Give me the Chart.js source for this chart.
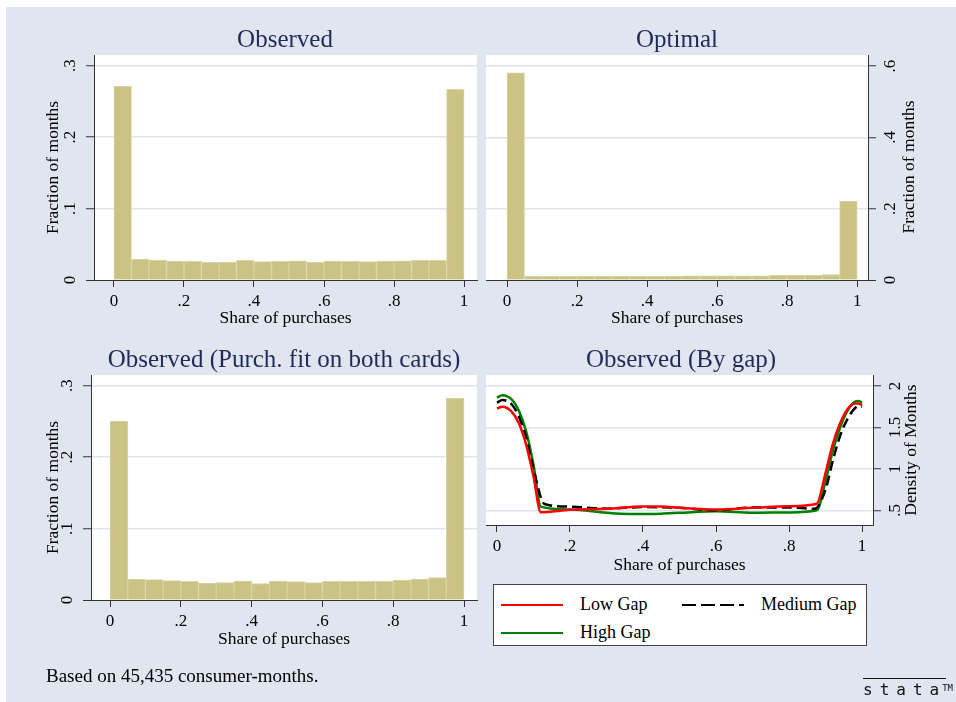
<!DOCTYPE html>
<html>
<head>
<meta charset="utf-8">
<script src="https://cdn.jsdelivr.net/npm/chart.js@4.4.0/dist/chart.umd.min.js"></script>
<style>
  body { margin: 0; background: #fff; font-family: "Liberation Serif", "Times New Roman", serif; }
  #page { position: relative; width: 956px; height: 702px; overflow: hidden; }
  #bg { position: absolute; left: 6px; top: 7px; right: 0; bottom: 0; background: #e1e5ef; }
  canvas { position: absolute; left: 0; top: 0; }
  .ptitle { position: absolute; transform: translate(-50%, -50%); font-size: 25px; line-height: 1; color: #1f2b5b; white-space: nowrap; }
  .rtitle { position: absolute; transform: translate(-50%, -50%) rotate(-90deg); font-size: 17.5px; line-height: 1; color: #000; white-space: nowrap; }
  #legend { position: absolute; left: 493px; top: 584px; width: 372px; height: 60px; border: 1px solid #444; background: #fff; }
  .litem { position: absolute; height: 20px; font-size: 18px; line-height: 20px; color: #000; white-space: nowrap; }
  .litem svg { position: absolute; left: 0; top: 9px; }
  .litem span { position: absolute; left: 79px; top: 0; }
  #note { position: absolute; left: 46px; top: 666px; font-size: 19px; line-height: 20px; color: #000; white-space: nowrap; }
  #logo { position: absolute; left: 863px; top: 681px; font-family: "DejaVu Sans Mono", monospace; font-size: 16px; line-height: 14px; color: #111; white-space: nowrap; }
  #logo b { font-weight: normal; border-top: 1px solid #111; letter-spacing: 7px; padding-top: 1px; }
  #logo i { font-style: normal; font-size: 9px; vertical-align: 4px; margin-left: -4px; }
</style>
</head>
<body>
<div id="page">
  <div id="bg"></div>
  <canvas id="c1" width="956" height="702"></canvas>
  <canvas id="c2" width="956" height="702"></canvas>
  <canvas id="c3" width="956" height="702"></canvas>
  <canvas id="c4" width="956" height="702"></canvas>
  <div class="ptitle" style="left:285px; top:38px;">Observed</div>
  <div class="ptitle" style="left:677px; top:38px;">Optimal</div>
  <div class="ptitle" style="left:284px; top:358px;">Observed (Purch. fit on both cards)</div>
  <div class="ptitle" style="left:681px; top:358px;">Observed (By gap)</div>
  <div class="rtitle" style="left:909px; top:167px;">Fraction of months</div>
  <div class="rtitle" style="left:911px; top:450px;">Density of Months</div>
  <div id="legend"></div>
  <div id="note">Based on 45,435 consumer-months.</div>
  <div id="logo"><b>stata</b><i>TM</i></div>
</div>
<script>
// histogram bins (left edges, width .05)
var binEdges = [0, .05, .1, .15, .2, .25, .3, .35, .4, .45, .5, .55, .6, .65, .7, .75, .8, .85, .9, .95];
var binWidth = .05;

var observed = [.271, .0294, .028, .0266, .026, .0248, .0252, .0276, .0257, .026,
                .027, .0248, .0266, .026, .0257, .0266, .027, .0276, .0276, .267];
var optimal = [.581, .0103, .0103, .0103, .011, .011, .011, .0103, .0103, .011,
               .012, .012, .012, .012, .012, .013, .013, .013, .015, .2215];
var observedBoth = [.2505, .0294, .0285, .0271, .0262, .0238, .0243, .0266, .0229, .0266,
                    .0257, .0243, .0262, .0262, .0262, .0262, .028, .0294, .0313, .2827];

// density by gap
var lowGapX = [0, .015, .04, .06, .08, .1, .12, .2, .3, .4, .45, .5, .6, .7, .8, .876, .9, .92, .94, .96, .98, .99, 1];
var lowGapY = [1.73, 1.75, 1.69, 1.55, 1.29, .91, .478, .506, .518, .546, .546, .53, .51, .53, .55, .58, .95, 1.3, 1.55, 1.72, 1.79, 1.79, 1.77];
var medGapX = [0, .015, .04, .06, .08, .1, .13, .2, .3, .4, .5, .6, .7, .8, .87, .9, .92, .94, .96, .98, .99, 1];
var medGapY = [1.80, 1.83, 1.78, 1.63, 1.38, 1.0, .577, .545, .52, .54, .53, .5, .535, .535, .52, .75, 1.1, 1.4, 1.6, 1.73, 1.76, 1.75];
var highGapX = [0, .015, .04, .06, .08, .1, .12, .2, .3, .36, .45, .5, .6, .7, .8, .876, .9, .92, .94, .96, .98, .99, 1];
var highGapY = [1.86, 1.89, 1.84, 1.70, 1.45, 1.05, .545, .51, .47, .456, .46, .47, .49, .47, .475, .5, .85, 1.22, 1.5, 1.7, 1.81, 1.82, 1.80];

var gapNames = ['Low Gap', 'Medium Gap', 'High Gap'];
var gapColors = ['#ff0000', '#000000', '#008000'];

var xTicks = [0, .2, .4, .6, .8, 1];
var fracTicks = [0, .1, .2, .3];
var optTicks = [0, .2, .4, .6];
var densTicks = [.5, 1, 1.5, 2];

var FONT = '"Liberation Serif", "Times New Roman", serif';
var AXIS = '#333';
var GRID = '#dfe5ef';
var BAR = '#cbc383';
var BAR_EDGE = '#d9d3a3';

function fmt(v) {
    var s = String(+Number(v).toFixed(2));
    return s.replace(/^0\./, '.');
}

var plotBg = {
    id: 'plotBg',
    beforeDraw: function(c) {
        var a = c.chartArea;
        c.ctx.save();
        c.ctx.fillStyle = '#fff';
        c.ctx.fillRect(a.left, a.top, a.right - a.left, a.bottom - a.top);
        c.ctx.restore();
    }
};

function xScale(min, max, h) {
    return {
        type: 'linear', min: min, max: max, offset: false,
        afterBuildTicks: function(s) { s.ticks = xTicks.map(function(v) { return { value: v }; }); },
        afterFit: function(s) { s.height = h; },
        grid: { offset: false, drawOnChartArea: false, tickLength: 7, tickColor: AXIS, tickWidth: 1 },
        border: { color: AXIS, width: 1 },
        ticks: { padding: 4, color: '#000', font: { family: FONT, size: 17 }, maxRotation: 0, autoSkip: false, callback: fmt },
        title: { display: true, text: 'Share of purchases', color: '#000', padding: 0, font: { family: FONT, size: 17.5 } }
    };
}

function yScale(pos, min, max, ticks, w, pad, title) {
    return {
        type: 'linear', position: pos, min: min, max: max,
        afterBuildTicks: function(s) { s.ticks = ticks.map(function(v) { return { value: v }; }); },
        afterFit: function(s) { s.width = w; },
        grid: {
            color: function(ctx) { return ctx.tick && ctx.tick.value === 0 ? AXIS : GRID; },
            lineWidth: function(ctx) { return ctx.tick && ctx.tick.value === 0 ? 1 : 1.5; },
            tickLength: 8, tickColor: AXIS, tickWidth: 1
        },
        border: { color: AXIS, width: 1 },
        ticks: { minRotation: 90, maxRotation: 90, crossAlign: 'center', padding: pad, color: '#000',
                 font: { family: FONT, size: 17 }, autoSkip: false, callback: fmt },
        title: { display: !!title, text: title || '', color: '#000', padding: 0, font: { family: FONT, size: 17.5 } }
    };
}

function baseOptions(padding, scales) {
    return {
        responsive: false,
        animation: false,
        events: [],
        layout: { padding: padding },
        plugins: { legend: { display: false }, tooltip: { enabled: false } },
        scales: scales
    };
}

function histData(values) {
    return {
        datasets: [{
            data: values.map(function(v, i) { return { x: binEdges[i] + binWidth / 2, y: v }; }),
            backgroundColor: BAR,
            borderColor: BAR_EDGE,
            borderWidth: 1,
            barPercentage: 1,
            categoryPercentage: 1
        }]
    };
}

new Chart(document.getElementById('c1'), {
    type: 'bar',
    data: histData(observed),
    options: baseOptions({ left: 43, right: 479, top: 55, bottom: 373 }, {
        x: xScale(-0.057, 1.037, 49),
        y: yScale('left', 0, 0.315, fracTicks, 51, 9, 'Fraction of months')
    }),
    plugins: [plotBg]
});

new Chart(document.getElementById('c2'), {
    type: 'bar',
    data: histData(optimal),
    options: baseOptions({ left: 486, right: 48, top: 55, bottom: 373 }, {
        x: xScale(-0.06, 1.031, 49),
        y: yScale('right', 0, 0.631, optTicks, 40, 8, null)
    }),
    plugins: [plotBg]
});

new Chart(document.getElementById('c3'), {
    type: 'bar',
    data: histData(observedBoth),
    options: baseOptions({ left: 43, right: 479, top: 375, bottom: 52 }, {
        x: xScale(-0.0537, 1.0367, 50),
        y: yScale('left', 0, 0.315, fracTicks, 48, 9, 'Fraction of months')
    }),
    plugins: [plotBg]
});

function gapSet(xs, ys, k, dash) {
    return {
        label: gapNames[k],
        data: xs.map(function(x, i) { return { x: x, y: ys[i] }; }),
        borderColor: gapColors[k],
        borderWidth: 2.5,
        borderDash: dash,
        pointRadius: 0,
        fill: false,
        cubicInterpolationMode: 'monotone'
    };
}

new Chart(document.getElementById('c4'), {
    type: 'line',
    data: {
        datasets: [
            gapSet(lowGapX, lowGapY, 0, []),
            gapSet(medGapX, medGapY, 1, [10, 5]),
            gapSet(highGapX, highGapY, 2, [])
        ]
    },
    options: baseOptions({ left: 486, right: 43, top: 375, bottom: 126 }, {
        x: xScale(-0.0301, 1.0301, 51),
        y: yScale('right', 0.323, 2.133, densTicks, 40, 4, null)
    }),
    plugins: [plotBg]
});

// legend box for the by-gap panel
var legendPos = [[7, 9], [188, 9], [7, 37]];
var legend = document.getElementById('legend');
gapNames.forEach(function(name, k) {
    var it = document.createElement('div');
    it.className = 'litem';
    it.style.left = legendPos[k][0] + 'px';
    it.style.top = legendPos[k][1] + 'px';
    var dash = k === 1 ? ' stroke-dasharray="14 5"' : '';
    it.innerHTML = '<svg width="64" height="4"><line x1="0" y1="2" x2="62" y2="2" stroke="' + gapColors[k] +
        '" stroke-width="2"' + dash + '/></svg><span>' + name + '</span>';
    legend.appendChild(it);
});
</script>
</body>
</html>
